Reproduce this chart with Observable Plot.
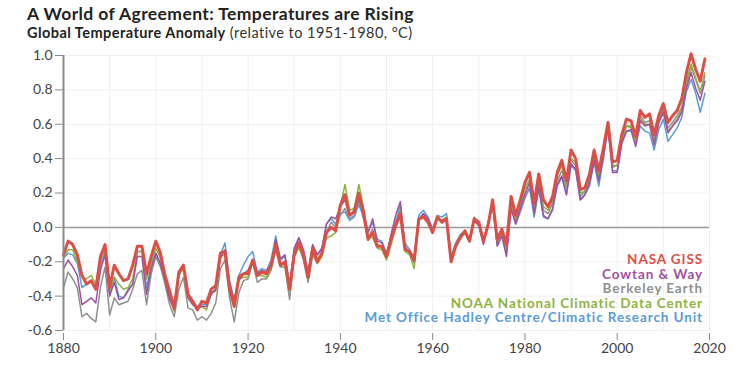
<!DOCTYPE html>
<html><head><meta charset="utf-8">
<script src="https://cdn.jsdelivr.net/npm/d3@7"></script>
<script src="https://cdn.jsdelivr.net/npm/@observablehq/plot@0.6"></script>
<style>
body{margin:0;background:#fff;font-family:Lato,"Open Sans",sans-serif;}
#wrap{position:relative;width:740px;height:365px;overflow:hidden;}
#title{position:absolute;left:27px;top:3px;font-size:17.5px;letter-spacing:0.4px;font-weight:700;color:#222;white-space:nowrap;}
#sub{position:absolute;left:27px;top:24px;font-size:14.5px;letter-spacing:0.45px;color:#333;white-space:nowrap;}
#sub b{font-weight:700;color:#222;}
#chart{position:absolute;left:0;top:44px;}
#legend{position:absolute;right:37px;top:252px;text-align:right;font-weight:700;font-size:13.5px;letter-spacing:0.9px;line-height:14.6px;white-space:nowrap;}
</style></head><body>
<div id="wrap">
<div id="title">A World of Agreement: Temperatures are Rising</div>
<div id="sub"><b>Global Temperature Anomaly</b> (relative to 1951-1980, °C)</div>
<div id="chart"></div>
<div id="legend"></div>
</div>
<script>
const firstYear = 1880, lastYear = 2019;
const xTicks = [1880, 1900, 1920, 1940, 1960, 1980, 2000, 2020];
const xGrid = [1880, 1890, 1900, 1910, 1920, 1930, 1940, 1950, 1960, 1970, 1980, 1990, 2000, 2010, 2020];
const yTicks = [-0.6, -0.4, -0.2, 0.0, 0.2, 0.4, 0.6, 0.8, 1.0];

const seriesNames = ["NASA GISS", "Cowtan & Way", "Berkeley Earth", "NOAA National Climatic Data Center", "Met Office Hadley Centre/Climatic Research Unit"];
const seriesColors = ["#dc4f45", "#a24f9f", "#8f8f8f", "#8cb33c", "#5b9bd6"];

const nasa = [
-0.16,-0.08,-0.10,-0.16,-0.28,-0.33,-0.31,-0.36,-0.17,-0.10,
-0.35,-0.22,-0.27,-0.31,-0.30,-0.22,-0.11,-0.11,-0.27,-0.17,
-0.08,-0.15,-0.28,-0.37,-0.47,-0.26,-0.22,-0.39,-0.43,-0.48,
-0.43,-0.44,-0.36,-0.34,-0.15,-0.14,-0.36,-0.46,-0.29,-0.27,
-0.27,-0.19,-0.28,-0.26,-0.27,-0.22,-0.10,-0.22,-0.20,-0.36,
-0.16,-0.09,-0.16,-0.29,-0.12,-0.20,-0.15,-0.03,0.00,-0.02,
0.13,0.19,0.07,0.09,0.20,0.09,-0.07,-0.03,-0.11,-0.11,
-0.17,-0.07,0.01,0.08,-0.13,-0.14,-0.19,0.05,0.06,0.03,
-0.03,0.06,0.03,0.05,-0.20,-0.11,-0.06,-0.02,-0.08,0.05,
0.03,-0.08,0.01,0.16,-0.07,-0.01,-0.10,0.18,0.07,0.16,
0.26,0.32,0.14,0.31,0.16,0.12,0.18,0.32,0.39,0.27,
0.45,0.40,0.22,0.23,0.31,0.45,0.33,0.46,0.61,0.38,
0.39,0.54,0.63,0.62,0.53,0.68,0.64,0.66,0.54,0.65,
0.72,0.61,0.65,0.68,0.75,0.90,1.01,0.92,0.85,0.98];

const noaa = [
-0.17,-0.13,-0.13,-0.20,-0.29,-0.30,-0.28,-0.33,-0.19,-0.14,
-0.37,-0.29,-0.33,-0.36,-0.35,-0.30,-0.14,-0.14,-0.30,-0.21,
-0.12,-0.18,-0.30,-0.39,-0.49,-0.28,-0.24,-0.41,-0.44,-0.47,
-0.46,-0.48,-0.38,-0.37,-0.17,-0.16,-0.34,-0.42,-0.30,-0.29,
-0.29,-0.20,-0.28,-0.28,-0.29,-0.24,-0.11,-0.21,-0.22,-0.37,
-0.17,-0.12,-0.17,-0.30,-0.14,-0.21,-0.17,-0.06,-0.05,-0.03,
0.12,0.25,0.10,0.11,0.25,0.12,-0.05,-0.06,-0.12,-0.13,
-0.19,-0.10,0.00,0.10,-0.14,-0.16,-0.24,0.04,0.06,0.03,
-0.02,0.06,0.04,0.06,-0.19,-0.11,-0.05,-0.04,-0.07,0.06,
0.02,-0.08,0.03,0.14,-0.09,-0.03,-0.14,0.15,0.04,0.13,
0.22,0.28,0.12,0.27,0.12,0.10,0.16,0.30,0.36,0.24,
0.40,0.38,0.20,0.21,0.28,0.41,0.30,0.43,0.60,0.35,
0.36,0.51,0.59,0.58,0.50,0.63,0.60,0.60,0.50,0.61,
0.67,0.56,0.59,0.63,0.69,0.85,0.95,0.87,0.79,0.90];

const hadcrut = [
-0.18,-0.15,-0.16,-0.21,-0.35,-0.33,-0.32,-0.36,-0.22,-0.14,
-0.39,-0.29,-0.40,-0.41,-0.36,-0.33,-0.14,-0.14,-0.35,-0.22,
-0.15,-0.21,-0.30,-0.40,-0.45,-0.28,-0.23,-0.40,-0.43,-0.46,
-0.45,-0.45,-0.38,-0.36,-0.16,-0.09,-0.31,-0.42,-0.28,-0.22,
-0.17,-0.14,-0.26,-0.24,-0.25,-0.19,-0.05,-0.19,-0.17,-0.33,
-0.13,-0.06,-0.14,-0.26,-0.11,-0.16,-0.13,0.02,0.05,0.02,
0.08,0.09,0.04,0.06,0.13,0.07,-0.03,0.03,-0.07,-0.08,
-0.15,-0.05,0.03,0.13,-0.09,-0.13,-0.18,0.07,0.10,0.06,
-0.01,0.07,0.06,0.08,-0.17,-0.09,-0.04,-0.02,-0.07,0.05,
0.01,-0.09,0.02,0.14,-0.10,-0.05,-0.15,0.12,0.02,0.09,
0.17,0.23,0.06,0.22,0.06,0.05,0.10,0.24,0.29,0.19,
0.36,0.33,0.16,0.19,0.24,0.38,0.24,0.40,0.58,0.33,
0.33,0.49,0.56,0.56,0.48,0.59,0.56,0.55,0.45,0.57,
0.63,0.50,0.54,0.58,0.64,0.79,0.86,0.78,0.67,0.78];

const cowtan = [
-0.24,-0.19,-0.23,-0.28,-0.45,-0.43,-0.41,-0.44,-0.25,-0.16,
-0.40,-0.32,-0.42,-0.41,-0.37,-0.33,-0.17,-0.17,-0.39,-0.24,
-0.15,-0.21,-0.31,-0.42,-0.48,-0.27,-0.23,-0.41,-0.45,-0.47,
-0.46,-0.46,-0.39,-0.36,-0.18,-0.13,-0.33,-0.43,-0.31,-0.27,
-0.25,-0.19,-0.27,-0.25,-0.26,-0.21,-0.07,-0.18,-0.16,-0.34,
-0.12,-0.06,-0.13,-0.26,-0.10,-0.16,-0.12,0.02,0.06,0.05,
0.12,0.16,0.07,0.10,0.17,0.09,-0.03,0.05,-0.08,-0.09,
-0.17,-0.04,0.07,0.15,-0.11,-0.15,-0.20,0.05,0.08,0.05,
-0.02,0.05,0.04,0.05,-0.19,-0.10,-0.06,-0.03,-0.08,0.04,
0.01,-0.10,0.02,0.13,-0.11,-0.05,-0.17,0.11,0.02,0.11,
0.19,0.26,0.08,0.24,0.07,0.05,0.11,0.25,0.30,0.19,
0.37,0.34,0.16,0.19,0.26,0.39,0.27,0.41,0.58,0.32,
0.32,0.49,0.56,0.57,0.47,0.62,0.59,0.60,0.48,0.61,
0.67,0.55,0.59,0.62,0.67,0.81,0.90,0.81,0.74,0.85];

const berkeley = [
-0.35,-0.26,-0.30,-0.35,-0.52,-0.50,-0.53,-0.55,-0.35,-0.23,
-0.51,-0.41,-0.45,-0.44,-0.43,-0.36,-0.27,-0.25,-0.45,-0.27,
-0.17,-0.23,-0.33,-0.45,-0.52,-0.36,-0.29,-0.47,-0.48,-0.54,
-0.52,-0.54,-0.50,-0.44,-0.24,-0.19,-0.41,-0.55,-0.38,-0.31,
-0.30,-0.20,-0.32,-0.30,-0.30,-0.25,-0.13,-0.23,-0.23,-0.42,
-0.17,-0.11,-0.19,-0.32,-0.16,-0.21,-0.15,-0.03,0.03,0.00,
0.07,0.11,0.05,0.07,0.15,0.05,-0.06,-0.01,-0.10,-0.11,
-0.17,-0.05,0.03,0.10,-0.12,-0.14,-0.21,0.04,0.07,0.04,
-0.01,0.06,0.04,0.06,-0.18,-0.10,-0.05,-0.03,-0.07,0.05,
0.02,-0.08,0.02,0.14,-0.09,-0.04,-0.14,0.14,0.04,0.13,
0.22,0.28,0.11,0.26,0.10,0.08,0.14,0.27,0.33,0.23,
0.39,0.36,0.18,0.21,0.28,0.41,0.29,0.43,0.59,0.36,
0.36,0.51,0.59,0.59,0.52,0.65,0.61,0.62,0.51,0.62,
0.69,0.58,0.61,0.65,0.70,0.83,0.93,0.86,0.78,0.88];

const years = d3.range(firstYear, lastYear + 1);
const seriesValues = [nasa, cowtan, berkeley, noaa, hadcrut];
const rows = (vals) => years.map((year, i) => ({year, value: vals[i]}));

// draw order: Berkeley, HadCRUT, NOAA, Cowtan, NASA on top
const drawOrder = [2, 4, 3, 1, 0];
const lineMarks = drawOrder.map(k => Plot.line(rows(seriesValues[k]), {
  x: "year", y: "value",
  stroke: seriesColors[k],
  strokeWidth: k === 0 ? 3 : 1.5,
  strokeLinejoin: "round"
}));

const chart = Plot.plot({
  width: 740, height: 321,
  marginLeft: 63, marginRight: 31, marginTop: 11, marginBottom: 35,
  style: {fontFamily: "Lato, 'Open Sans', sans-serif", fontSize: "14px", color: "#444", background: "transparent"},
  x: {domain: [1880, 2020], axis: null, label: null},
  y: {domain: [-0.6, 1.0], axis: null, label: null},
  marks: [
    Plot.ruleX(xGrid, {stroke: "#f0f0f0", strokeWidth: 1}),
    Plot.ruleY(yTicks, {stroke: "#f0f0f0", strokeWidth: 1}),
    Plot.ruleY([0], {stroke: "#999", strokeWidth: 1.5}),
    ...lineMarks,
    Plot.ruleX([1880], {y1: yTicks[0], y2: yTicks[yTicks.length - 1], stroke: "#8a8a8a", strokeWidth: 2}),
    Plot.axisY(yTicks, {label: null, tickSize: 8, tickPadding: 3, tickFormat: d => d.toFixed(1), stroke: "#8a8a8a", fill: "#444"}),
    Plot.axisX(xTicks, {label: null, tickSize: 7, tickPadding: 3, dy: 3, tickFormat: d => String(d), stroke: "#8a8a8a", fill: "#444"})
  ]
});
document.getElementById("chart").appendChild(chart);

const legend = document.getElementById("legend");
seriesNames.forEach((name, k) => {
  const div = document.createElement("div");
  div.textContent = name;
  div.style.color = seriesColors[k];
  legend.appendChild(div);
});
</script>
</body></html>
